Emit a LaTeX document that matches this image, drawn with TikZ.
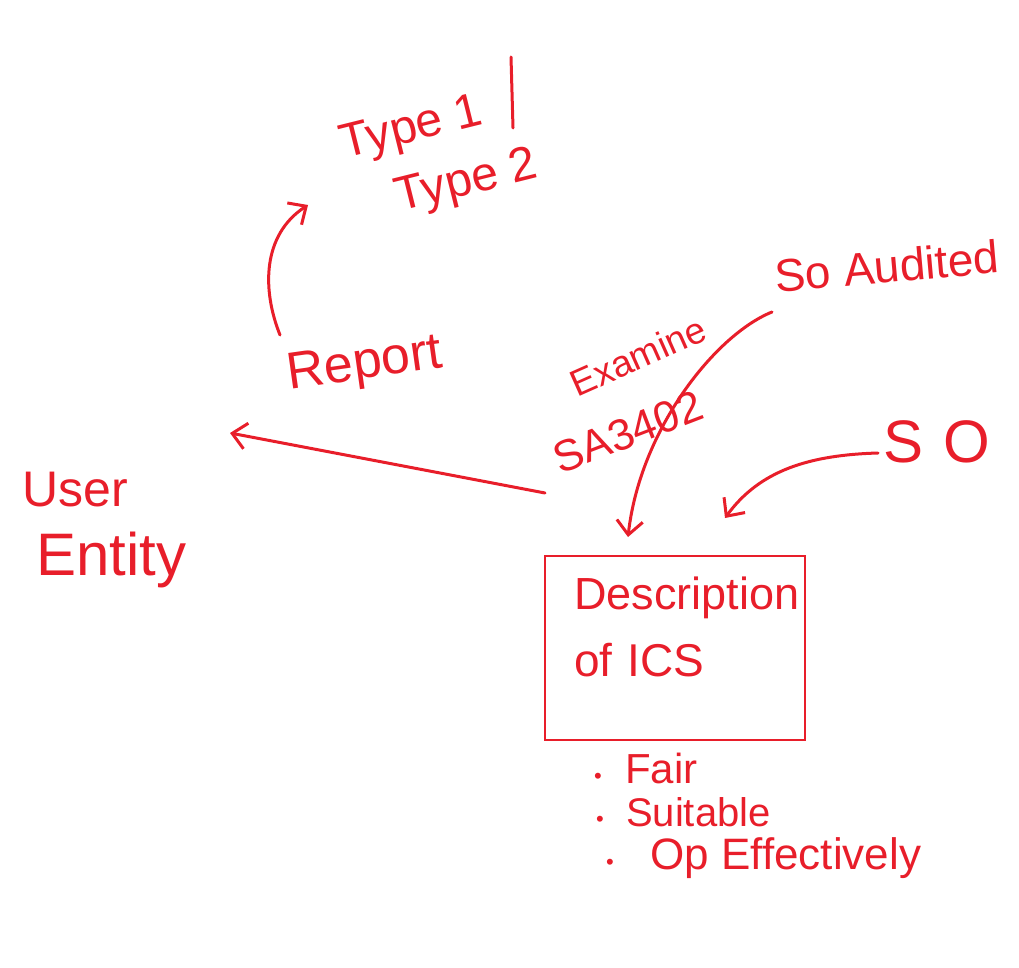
\documentclass[tikz,border=0pt]{standalone}
\usepackage{fontspec}
\setmainfont{Liberation Sans}
\usetikzlibrary{arrows.meta}
\definecolor{ink}{HTML}{E81E2A}
\tikzset{
  pen/.style={draw=ink, line width=3pt, line cap=round, line join=round},
  arr/.style={pen, -{Straight Barb[length=14pt,width=26pt,line width=3pt]}},
  hand/.style={text=ink, inner sep=0pt, font=\fontsize{#1}{#1}\selectfont},
  hand/.default=40,
  boxstyle/.style={draw=ink, line width=2.5pt, minimum width=260pt, minimum height=184pt, inner sep=0pt}
}
\newcommand{\bul}{{\fontsize{22}{22}\selectfont\textbullet}}
\begin{document}
\begin{tikzpicture}[x=1pt,y=-1pt]
\useasboundingbox (0,0) rectangle (1019,968);
% texts
\node[hand=48, rotate=14] (type1) at (412,130) {Type 1};
\node[hand=48, rotate=14] (type2) at (467,183) {Type 2};
\node[hand=52, rotate=8] (report) at (365,366) {Report};
\node[hand=50, anchor=west] (user) at (22,490) {User};
\node[hand=60, anchor=west] (entity) at (36,560) {Entity};
\node[hand=46, rotate=5] (soaud) at (887,266) {So Audited};
\node[hand=37, rotate=24] (examine) at (638,356) {Examine};
\node[hand=44, rotate=21] (sa) at (628,432) {SA3402};
\node[hand=60] (so) at (937,442) {S\,\,O};
\node[boxstyle] (box) at (675,648) {};
\node[hand=45, anchor=west] (desc) at (574,598) {Description};
\node[hand=46, anchor=west] (ofics) at (574,660) {of\,\,ICS};
\node[hand=42, anchor=west] (fair) at (594,768) {\bul\ \ Fair};
\node[hand=40, anchor=west] (suit) at (596,812) {\bul\ \ Suitable};
\node[hand=44, anchor=west] (opeff) at (606,858) {\bul\ \ \ Op Effectively};
% bar after Type 1
\coordinate (barTop) at (511,57);
\coordinate (barBot) at (513,128);
\draw[pen] (barTop) -- (barBot);
% connectors
\coordinate (repS) at (545,493);
\coordinate (repE) at (230,433);
\draw[arr] (repS) -- (repE);
\coordinate (tS) at (280,335);
\coordinate (tE) at (308,205);
\draw[arr] (tS) .. controls (262,290) and (262,235) .. (tE);
\coordinate (aS) at (772,312);
\coordinate (aE) at (628,537);
\draw[arr] (aS) .. controls (715,335) and (640,430) .. (aE);
\coordinate (sS) at (878,453);
\coordinate (sE) at (725,518);
\draw[arr] (sS) .. controls (810,455) and (760,470) .. (sE);
\end{tikzpicture}
\end{document}
